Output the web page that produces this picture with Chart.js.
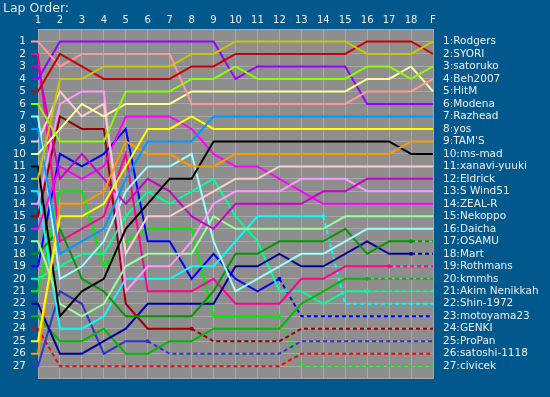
<!DOCTYPE html>
<html><head><meta charset="utf-8">
<script src="https://cdn.jsdelivr.net/npm/chart.js@4/dist/chart.umd.min.js"></script>
<style>html,body{margin:0;padding:0;background:#00588c;overflow:hidden}</style>
</head><body><canvas id="c" width="550" height="397"></canvas>
<script>
const lapLabels = ['1','2','3','4','5','6','7','8','9','10','11','12','13','14','15','16','17','18','F'];
const drivers = ['Rodgers','SYORI','satoruko','Beh2007','HitM','Modena','Razhead','yos',"TAM'S",'ms-mad',
  'xanavi-yuuki','Eldrick','S Wind51','ZEAL-R','Nekoppo','Daicha','OSAMU','Mart','Rothmans','kmmhs',
  'Akim Nenikkah','Shin-1972','motoyama23','GENKI','ProPan','satoshi-1118','civicek'];

const rodgers  = [12,4,4,3,3,3,3,2,2,1,1,1,1,1,1,2,2,2,1];
const syori    = [5,2,3,4,4,4,4,3,3,2,2,2,2,2,2,1,1,1,2];
const satoruko = [6,9,9,9,5,5,5,4,4,3,4,4,4,4,4,3,3,4,3];
const beh2007  = [1,3,2,2,2,2,2,6,6,6,6,6,6,6,6,5,5,5,4];
const hitm     = [10,8,6,7,6,6,6,5,5,5,5,5,5,5,5,4,4,3,5];
const modena   = [4,1,1,1,1,1,1,1,1,4,3,3,3,3,3,6,6,6,6];
const razhead  = [8,18,17,16,12,9,9,9,7,7,7,7,7,7,7,7,7,7,7];
const yos      = [25,15,15,14,11,8,8,7,8,8,8,8,8,8,8,8,8,8,8];
const tams     = [26,14,14,13,9,10,10,11,11,10,10,10,10,10,10,10,10,9,9];
const msmad    = [11,23,21,20,16,14,12,12,9,9,9,9,9,9,9,9,9,10,10];
const xanavi   = [9,5,7,6,18,15,15,14,13,12,12,11,11,11,11,11,11,11,11];
const eldrick  = [3,12,10,12,14,12,13,15,16,14,14,14,14,13,13,12,12,12,12];
const swind51  = [14,6,5,5,21,19,19,17,14,13,13,13,12,12,12,13,13,13,13];
const zealr    = [16,11,12,11,7,7,7,8,10,11,11,12,13,14,14,14,14,14,14];
const nekoppo  = [17,22,23,22,19,18,18,18,15,16,16,16,16,16,15,15,15,15,15];
const daicha   = [7,20,19,17,13,11,11,10,17,21,20,19,18,18,17,16,16,16,16];
const osamu    = [18,16,20,21,23,23,23,23,21,18,18,17,17,17,16,18,17,17,17];
const mart     = [22,26,26,25,24,22,22,22,22,19,19,18,19,19,18,17,18,18,18];
const rothmans = [2,17,16,15,10,21,21,21,20,22,22,22,20,20,19,19,19,19,19];
const kmmhs    = [23,25,25,24,26,26,25,25,24,24,24,24,22,21,20,20,20,20,20];
const akim     = [20,19,18,18,15,13,14,13,12,15,17,21,21,22,21,21,21,21,21];
const shin     = [13,24,24,23,20,20,20,19,19,17,15,15,15,15,22,22,22,22,22];
const motoyama = [19,10,11,10,8,17,17,20,18,20,21,20,23,23,23,23,23,23,23];
const genki    = [15,7,8,8,22,24,24,24,25,25,25,25,24,24,24,24,24,24,24];
const propan   = [27,21,22,26,25,25,26,26,26,26,26,26,25,25,25,25,25,25,25];
const satoshi  = [24,27,27,27,27,27,27,27,27,27,27,27,26,26,26,26,26,26,26];
const civicek  = [21,13,13,19,17,16,16,16,23,23,23,23,27,27,27,27,27,27,27];

// last lap column index reached (null = finished); -1 = none
const lastLap = [null,null,null,null,null,null,null,null,null,null,
  null,null,null,null,null,null,17,17,16,15,15,13,11,7,5,-1,11];

const series = [rodgers,syori,satoruko,beh2007,hitm,modena,razhead,yos,tams,msmad,
  xanavi,eldrick,swind51,zealr,nekoppo,daicha,osamu,mart,rothmans,kmmhs,
  akim,shin,motoyama,genki,propan,satoshi,civicek];

const colors = ['#c8c800','#cc0000','#88ff00','#ff9999','#ffff99','#9900ff','#0099ff','#ffff00','#ff9900','#000000',
  '#ffcccc','#cc00cc','#ff99ff','#ff00ff','#99ff99','#99ffff','#009900','#000099','#ff0099','#00bb00',
  '#00ff99','#00ffff','#0000ff','#990000','#3333cc','#ff0000','#00ee00'];

const STUB_L = -0.32, STUB_R = 18.36;
const datasets = series.map((p, k) => {
  const pts = [{x: STUB_L, y: p[0]}].concat(p.map((y, i) => ({x: i, y})), [{x: STUB_R, y: p[p.length-1]}]);
  const stop = lastLap[k];
  return {
    label: drivers[k],
    data: pts,
    borderColor: colors[k],
    backgroundColor: colors[k],
    borderWidth: 2,
    tension: 0,
    clip: false,
    pointRadius: ctx => (stop !== null && stop >= 0 && ctx.dataIndex === stop + 1) ? 2 : 0,
    pointBorderWidth: 0,
    segment: {
      borderDash: ctx => (stop !== null && ctx.p0DataIndex >= stop + 1) ? [4, 3] : undefined
    }
  };
});

const bgPlugin = {
  id: 'bg',
  beforeDraw(chart) {
    const {ctx, chartArea: a} = chart;
    ctx.save();
    ctx.fillStyle = '#00588c';
    ctx.fillRect(0, 0, chart.width, chart.height);
    ctx.fillStyle = '#8e8e8e';
    ctx.fillRect(a.left, a.top, a.right - a.left, a.bottom - a.top);
    ctx.restore();
  },
  afterDraw(chart) {
    const ctx = chart.ctx;
    ctx.save();
    ctx.fillStyle = '#e8e8e8';
    ctx.font = '12.5px "DejaVu Sans"';
    ctx.textBaseline = 'middle';
    ctx.textAlign = 'left';
    ctx.fillText('Lap Order:', 3, 9);
    ctx.restore();
  }
};

const tickColor = '#f0f0f0';
new Chart(document.getElementById('c'), {
  type: 'line',
  data: {datasets},
  options: {
    responsive: false,
    animation: false,
    devicePixelRatio: 1,
    layout: {padding: {left: 0, right: 0, top: 0, bottom: 14}},
    plugins: {legend: {display: false}, tooltip: {enabled: false}},
    scales: {
      x: {
        type: 'linear', position: 'top', min: 0, max: 18,
        afterFit: s => { s.height = 29; },
        afterBuildTicks: s => { s.ticks = lapLabels.map((_, i) => ({value: i})); },
        ticks: {autoSkip: false, maxRotation: 0, color: tickColor, padding: 3,
          font: {family: 'DejaVu Sans', size: 10},
          callback: v => lapLabels[v]},
        grid: {color: '#a8a8a8', lineWidth: 1, drawTicks: false},
        border: {display: false}
      },
      y: {
        type: 'linear', position: 'left', reverse: true, min: 0, max: 28,
        afterFit: s => { s.width = 38; },
        afterBuildTicks: s => { s.ticks = Array.from({length: 29}, (_, i) => ({value: i})); },
        ticks: {autoSkip: false, color: tickColor, padding: 12,
          font: {family: 'DejaVu Sans', size: 10.5},
          callback: v => (v >= 1 && v <= 27) ? String(v) : ''},
        grid: {color: '#a8a8a8', lineWidth: 1, drawTicks: false},
        border: {display: false}
      },
      y2: {
        type: 'linear', position: 'right', reverse: true, min: 0, max: 28,
        afterFit: s => { s.width = 117; },
        afterBuildTicks: s => { s.ticks = Array.from({length: 29}, (_, i) => ({value: i})); },
        ticks: {autoSkip: false, color: tickColor, padding: 10,
          font: {family: 'DejaVu Sans', size: 10.5},
          callback: v => (v >= 1 && v <= 27) ? (v + ':' + drivers[v-1]) : ''},
        grid: {display: false, drawTicks: false},
        border: {display: false}
      }
    }
  },
  plugins: [bgPlugin]
});
</script>
</body></html>
